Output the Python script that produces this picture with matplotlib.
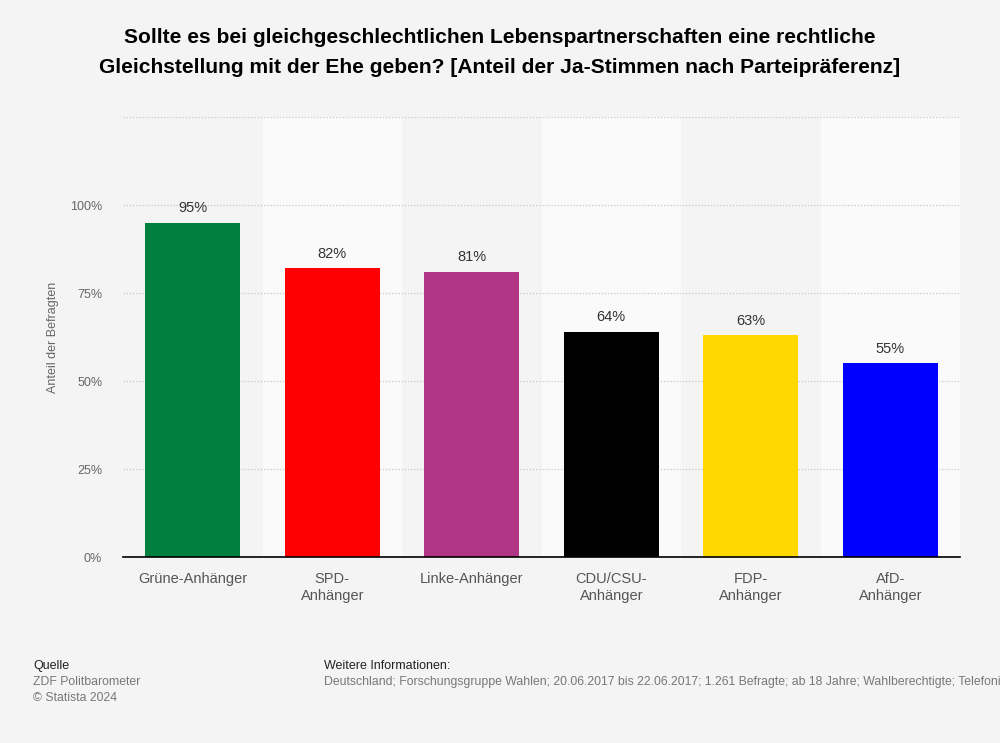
import matplotlib.pyplot as plt
import numpy as np

plt.rcParams['font.family'] = ['Liberation Sans', 'DejaVu Sans']

categories = ['Grüne-Anhänger', 'SPD-\nAnhänger', 'Linke-Anhänger',
              'CDU/CSU-\nAnhänger', 'FDP-\nAnhänger', 'AfD-\nAnhänger']
values = [95, 82, 81, 64, 63, 55]
colors = ['#00803f', '#ff0000', '#b03585', '#000000', '#fed800', '#0000ff']
yticks = [0, 25, 50, 75, 100, 125]
ytick_labels = ['0%', '25%', '50%', '75%', '100%', '']

bg = '#f4f4f4'
fig = plt.figure(figsize=(10, 7.43), dpi=100, facecolor=bg)
ax = fig.add_axes([0.123, 0.2503, 0.837, 0.5922])
ax.set_facecolor(bg)

x = np.arange(len(categories))
# alternating column shading
for i in x:
    if i % 2 == 1:
        ax.axvspan(i - 0.5, i + 0.5, ymin=0, ymax=1, color='#fafafa', zorder=0, lw=0)

ax.set_xlim(-0.5, len(categories) - 0.5)
ax.set_ylim(0, 125)
ax.set_yticks(yticks)
ax.set_yticklabels(ytick_labels)
ax.yaxis.grid(True, linestyle=(0, (1, 1.5)), color='#c8c8c8', linewidth=0.9, zorder=1)
ax.set_axisbelow(True)

bars = ax.bar(x, values, width=0.68, color=colors, zorder=2)
for b, v in zip(bars, values):
    ax.text(b.get_x() + b.get_width() / 2, v + 2.2, f'{v}%', ha='center', va='bottom',
            fontsize=10.5, color='#333333')

ax.set_xticks(x)
ax.set_xticklabels(categories, fontsize=10.5, color='#555555', linespacing=1.25)
ax.tick_params(axis='x', length=0, pad=11)
ax.tick_params(axis='y', length=0, pad=15, labelsize=9, labelcolor='#666666')
for s in ['top', 'right', 'left']:
    ax.spines[s].set_visible(False)
ax.spines['bottom'].set_color('#000000')
ax.spines['bottom'].set_linewidth(1.2)

ax.set_ylabel('Anteil der Befragten', fontsize=9, color='#666666')
ax.yaxis.set_label_coords(-0.077, 0.5)

fig.text(0.5, 0.962, 'Sollte es bei gleichgeschlechtlichen Lebenspartnerschaften eine rechtliche\n'
         'Gleichstellung mit der Ehe geben? [Anteil der Ja-Stimmen nach Parteipräferenz]',
         ha='center', va='top', fontsize=15.1, fontweight='bold', color='#000000', linespacing=1.75)

fig.text(0.033, 0.103, 'Quelle', fontsize=9, color='#222222', va='center')
fig.text(0.033, 0.082, 'ZDF Politbarometer', fontsize=8.8, color='#777777', va='center')
fig.text(0.033, 0.060, '© Statista 2024', fontsize=8.8, color='#777777', va='center')
fig.text(0.324, 0.103, 'Weitere Informationen:', fontsize=9, color='#222222', va='center')
fig.text(0.324, 0.082, 'Deutschland; Forschungsgruppe Wahlen; 20.06.2017 bis 22.06.2017; 1.261 Befragte; '
         'ab 18 Jahre; Wahlberechtigte; Telefonische Befragung',
         fontsize=8.8, color='#777777', va='center')

fig.savefig('out.png', dpi=100, facecolor=bg)
